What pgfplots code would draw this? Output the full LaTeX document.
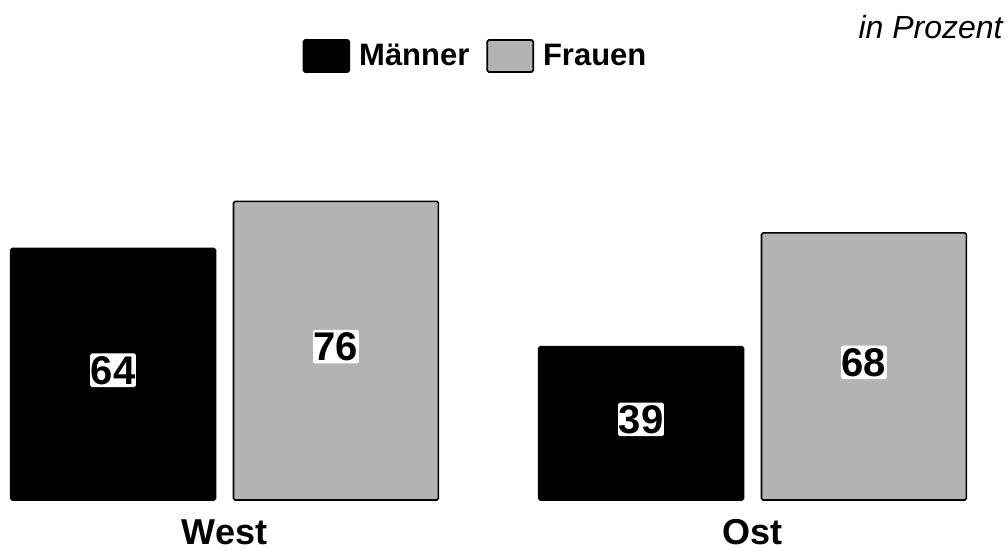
\documentclass[border=0pt]{standalone}
\usepackage{pgfplots}
\pgfplotsset{compat=1.18}
\usepackage{fontspec}
\setmainfont{Liberation Sans}
\definecolor{fgray}{RGB}{179,179,179}
\begin{document}
\begin{tikzpicture}
\begin{axis}[
  scale only axis,
  width=504pt, height=200pt,
  xmin=-0.4252, xmax=1.4839,
  ymin=0, ymax=101.8,
  axis line style={draw=none},
  tick style={draw=none},
  ytick=\empty,
  xtick={0,1},
  xticklabels={West,Ost},
  xticklabel style={font=\fontsize{18}{20}\selectfont\bfseries, anchor=north, inner sep=0pt, yshift=-5.3pt},
  ybar=9pt,
  bar width=0.388,
  clip=false,
  point meta=y,
  /pgf/number format/assume math mode=true,
  nodes near coords,
  visualization depends on={rawy \as \rawy},
  nodes near coords style={anchor=center, fill=white, text=black, inner xsep=0.3pt, inner ysep=1.3pt,
     font=\fontsize{20}{20}\selectfont\bfseries, yshift={-\rawy*0.9823pt+2pt}},
  legend columns=2,
  legend style={draw=none, fill=none, at={(axis description cs:0.4727,1)}, anchor=center, yshift=22pt,
     font=\fontsize{15.5}{17}\selectfont\bfseries, inner sep=0pt,
     /tikz/every odd column/.append style={column sep=2.5pt},
     /tikz/every even column/.append style={column sep=6.5pt}},
  legend image code/.code={\draw[#1, line width=0.8pt] (0pt,-8pt) rectangle (23pt,8pt);},
  title={\fontsize{16}{18}\selectfont\itshape in Prozent},
  title style={at={(axis description cs:1,1)}, anchor=base east, inner sep=0pt, yshift=24.5pt, xshift=-2.5pt},
]
\addplot[fill=black, draw=black, line width=0.8pt, rounded corners=0.8pt] coordinates {(0,64) (1,39)};
\addplot[fill=fgray, draw=black, line width=0.8pt, rounded corners=0.8pt] coordinates {(0,76) (1,68)};
\legend{Männer, Frauen}
\end{axis}
\pgfresetboundingbox
\path (0,-25.5pt) rectangle (504pt,250pt);
\end{tikzpicture}
\end{document}
